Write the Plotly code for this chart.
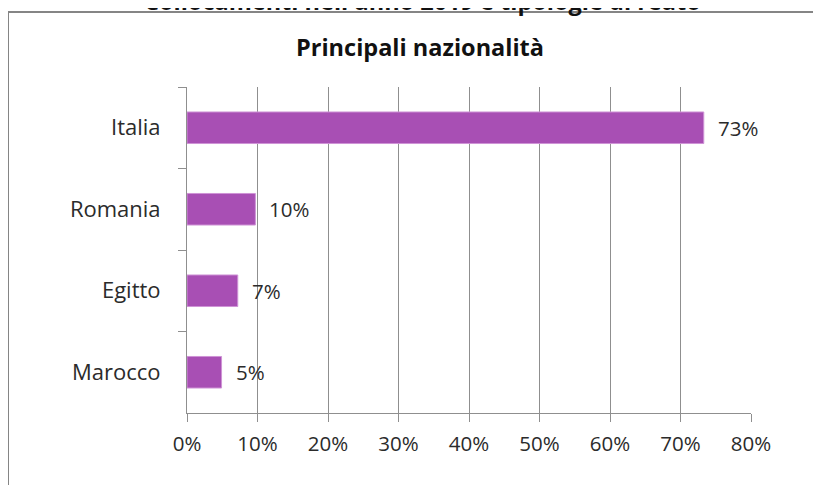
import plotly.graph_objects as go

# Data
categories = ["Italia", "Romania", "Egitto", "Marocco"]
values = [0.733, 0.097, 0.072, 0.049]
labels = ["73%", "10%", "7%", "5%"]
x_ticks = [0, 0.1, 0.2, 0.3, 0.4, 0.5, 0.6, 0.7, 0.8]
x_tick_labels = ["0%", "10%", "20%", "30%", "40%", "50%", "60%", "70%", "80%"]

main_title = "Collocamenti nell'anno 2019 e tipologie di reato"
chart_title = "Principali nazionalità"

FONT = "Open Sans"
TXT = "#2b2b2b"
GRID = "#8f8f8f"

# page has an 8px body margin: work in figure coordinates = page - 8
OFF = 8
W, H = 821 - OFF, 485 - OFF
L, R, T, B = 187 - OFF, 70, 87 - OFF, 72
pw, ph = W - L - R, H - T - B

def px_x(p):  # page pixel -> paper
    return (p - OFF - L) / pw

def px_y(p):
    return (H - B - (p - OFF)) / ph

fig = go.Figure()
fig.add_trace(go.Bar(
    x=values, y=categories, orientation="h",
    marker=dict(color="#a84fb4", line=dict(color="#cf93d6", width=1)),
    hoverinfo="skip",
))

annotations = []
for c, v, t in zip(categories, values, labels):
    annotations.append(dict(
        x=v, y=c, xref="x", yref="y", text=t, showarrow=False,
        xanchor="left", yanchor="middle", xshift=12,
        font=dict(family=FONT, size=20.5, color=TXT),
    ))

annotations.append(dict(
    x=px_x(420), y=px_y(47), xref="paper", yref="paper", text="<b>" + chart_title + "</b>",
    showarrow=False, xanchor="center", yanchor="middle",
    font=dict(family=FONT, size=23.5, color="#111111"),
))
annotations.append(dict(
    x=px_x(422), y=px_y(19), xref="paper", yref="paper", text="<b>" + main_title + "</b>",
    showarrow=False, xanchor="center", yanchor="bottom",
    font=dict(family=FONT, size=23.5, color="#111111"),
))

shapes = [
    dict(type="line", xref="paper", yref="paper",
         x0=px_x(8), x1=px_x(830), y0=px_y(12), y1=px_y(12),
         line=dict(color="#858585", width=2)),
    dict(type="line", xref="paper", yref="paper",
         x0=px_x(8), x1=px_x(8), y0=px_y(12), y1=px_y(490),
         line=dict(color="#858585", width=2)),
]

fig.update_layout(
    width=W, height=H,
    margin=dict(l=L, r=R, t=T, b=B),
    paper_bgcolor="white", plot_bgcolor="white",
    bargap=0.613,
    showlegend=False,
    annotations=annotations,
    shapes=shapes,
    font=dict(family=FONT, size=20, color=TXT),
)
fig.update_xaxes(
    range=[0, 0.8], tickvals=x_ticks, ticktext=x_tick_labels,
    showgrid=True, gridcolor=GRID, gridwidth=1,
    showline=True, linecolor=GRID, linewidth=1,
    ticks="outside", ticklen=8, tickcolor=GRID,
    ticklabelstandoff=4,
    zeroline=False,
    tickfont=dict(family=FONT, size=20.5, color=TXT),
)
fig.update_yaxes(
    categoryorder="array", categoryarray=categories, autorange="reversed",
    showgrid=False, showline=True, linecolor=GRID, linewidth=1,
    ticks="outside", ticklen=8, tickcolor=GRID, tickson="boundaries",
    ticklabelstandoff=21,
    tickfont=dict(family=FONT, size=22, color=TXT),
)

fig.write_html("out.html")
